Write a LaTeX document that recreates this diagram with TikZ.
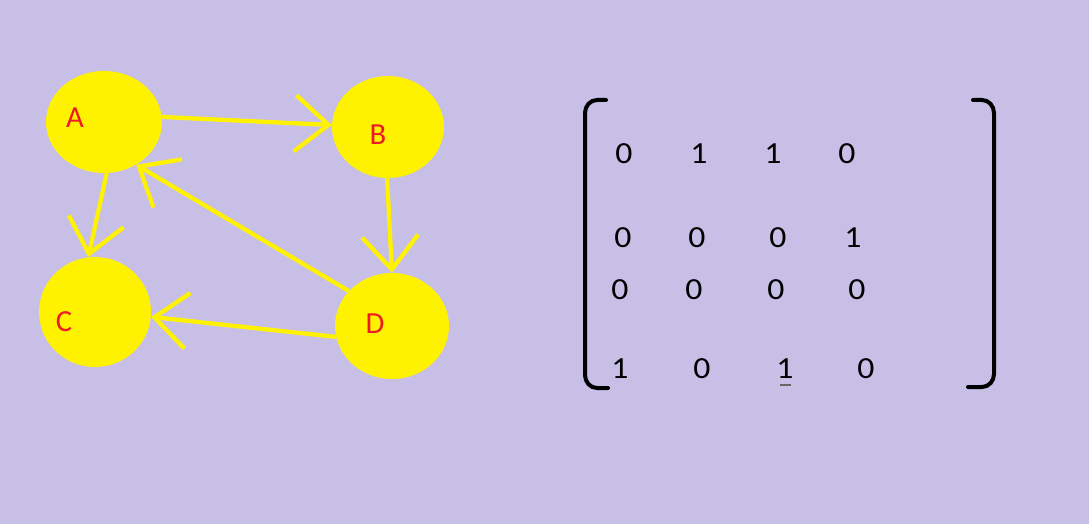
\documentclass[tikz,border=0pt]{standalone}
\usepackage{fontspec}
\setmainfont{Carlito}
\usetikzlibrary{shapes.geometric,arrows.meta}
\definecolor{bgcol}{HTML}{C8BFE7}
\definecolor{nodeyellow}{HTML}{FFF200}
\definecolor{labelred}{HTML}{ED1C24}
\tikzset{
  vertex/.style={ellipse, fill=nodeyellow, draw=none, inner sep=0pt},
  vlabel/.style={text=labelred, font=\fontsize{23pt}{23pt}\selectfont, inner sep=0pt},
  edge/.style={draw=nodeyellow, line width=3.2pt,
    -{Straight Barb[length=25pt, width=42pt, line width=3.2pt]}},
  entry/.style={text=black, font=\fontsize{23pt}{23pt}\selectfont, inner sep=0pt, xscale=1.1},
  bracket/.style={draw=black, line width=3pt, line cap=round}
}
\begin{document}
\begin{tikzpicture}[x=0.75pt, y=-0.75pt]
\useasboundingbox[fill=bgcol] (0,0) rectangle (1089,524);
% vertices
\node[vertex, minimum width=87pt, minimum height=76.5pt] (A) at (104,122) {};
\node[vertex, minimum width=84pt, minimum height=76.5pt] (B) at (388,127) {};
\node[vertex, minimum width=84pt, minimum height=82.5pt] (C) at (95,312) {};
\node[vertex, minimum width=85.5pt, minimum height=79.5pt] (D) at (392,326) {};
\node[vlabel] (lA) at (75,118) {A};
\node[vlabel] (lB) at (378,135) {B};
\node[vlabel] (lC) at (64,322) {C};
\node[vlabel] (lD) at (375,324) {D};
% edges
\draw[edge] (A.5) -- (B.178);
\draw[edge] (B.269) -- (D.90);
\draw[edge] (D.141) -- (A.307);
\draw[edge] (A.273) -- (C.97);
\draw[edge] (D.191) -- (C.355);
% matrix brackets
\draw[bracket] (606,100) -- (597,100) to[out=180,in=90] (585,113) -- (585,375) to[out=-90,in=180] (597,388) -- (608,388);
\draw[bracket] (973,100) -- (982,100) to[out=0,in=90] (994,113) -- (994,374) to[out=-90,in=0] (982,387) -- (968,387);
% matrix entries
\node[entry] (m11) at (624,154) {0};
\node[entry] (m12) at (699,154) {1};
\node[entry] (m13) at (773,154) {1};
\node[entry] (m14) at (847,154) {0};
\node[entry] (m21) at (623,238) {0};
\node[entry] (m22) at (697,238) {0};
\node[entry] (m23) at (778,238) {0};
\node[entry] (m24) at (853,238) {1};
\node[entry] (m31) at (620,290) {0};
\node[entry] (m32) at (694,290) {0};
\node[entry] (m33) at (776,290) {0};
\node[entry] (m34) at (857,290) {0};
\node[entry] (m41) at (620,369) {1};
\node[entry] (m42) at (702,369) {0};
\node[entry] (m43) at (785,369) {1};
\node[entry] (m44) at (866,369) {0};
\draw[draw=black!60, line width=0.9pt] (780,385) -- (791,385);
\end{tikzpicture}
\end{document}
